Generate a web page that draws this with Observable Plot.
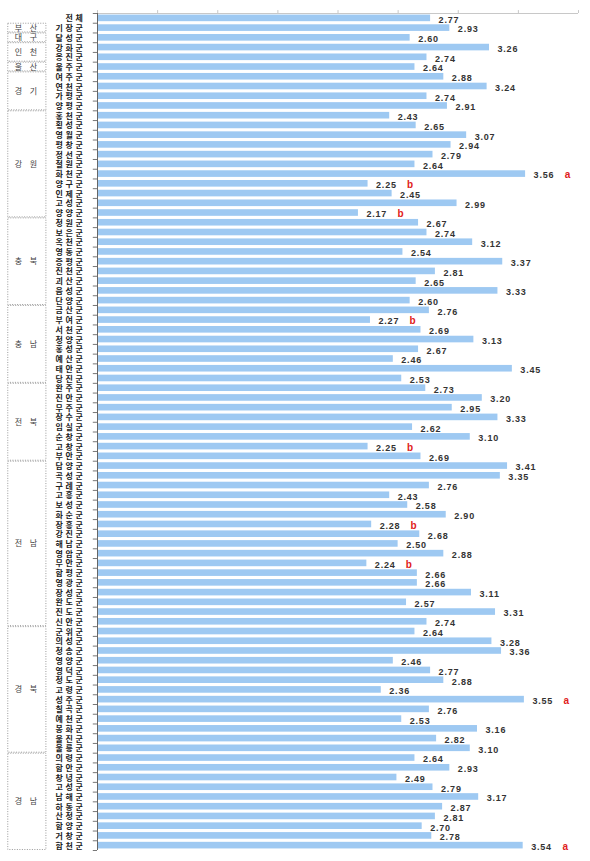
<!DOCTYPE html>
<html><head><meta charset="utf-8">
<script src="https://cdn.jsdelivr.net/npm/d3@7"></script>
<script src="https://cdn.jsdelivr.net/npm/@observablehq/plot@0.6"></script>
<style>
body{margin:0;background:#fff;}
#chart svg{display:block;}
</style></head><body><div id="chart"></div><script>
const names = ["전체","기장군","달성군","강화군","옹진군","울주군","여주군","연천군","가평군","양평군",
"홍천군","횡성군","영월군","평창군","정선군","철원군","화천군","양구군","인제군","고성군","양양군",
"청원군","보은군","옥천군","영동군","증평군","진천군","괴산군","음성군","단양군",
"금산군","부여군","서천군","청양군","홍성군","예산군","태안군","당진군",
"완주군","진안군","무주군","장수군","임실군","순창군","고창군","부안군",
"담양군","곡성군","구례군","고흥군","보성군","화순군","장흥군","강진군","해남군","영암군","무안군","함평군","영광군","장성군","완도군","진도군","신안군",
"군위군","의성군","청송군","영양군","영덕군","청도군","고령군","성주군","칠곡군","예천군","봉화군","울진군","울릉군",
"의령군","함안군","창녕군","고성군","남해군","하동군","산청군","함양군","거창군","합천군"];
const values = [2.77,2.93,2.60,3.26,2.74,2.64,2.88,3.24,2.74,2.91,
2.43,2.65,3.07,2.94,2.79,2.64,3.56,2.25,2.45,2.99,2.17,
2.67,2.74,3.12,2.54,3.37,2.81,2.65,3.33,2.60,
2.76,2.27,2.69,3.13,2.67,2.46,3.45,2.53,
2.73,3.20,2.95,3.33,2.62,3.10,2.25,2.69,
3.41,3.35,2.76,2.43,2.58,2.90,2.28,2.68,2.50,2.88,2.24,2.66,2.66,3.11,2.57,3.31,2.74,
2.64,3.28,3.36,2.46,2.77,2.88,2.36,3.55,2.76,2.53,3.16,2.82,3.10,
2.64,2.93,2.49,2.79,3.17,2.87,2.81,2.70,2.78,3.54];
const sigLetters = ["","","","","","","","","","",
"","","","","","","a","b","","","b",
"","","","","","","","","",
"","b","","","","","","",
"","","","","","","b","",
"","","","","","","b","","","","b","","","","","","",
"","","","","","","","a","","","","","",
"","","","","","","","","","a"];
const groupNames = ["부 산","대 구","인 천","울 산","경 기","강 원","충 북","충 남","전 북","전 남","경 북","경 남"];
const groupStart = [2,3,4,6,7,11,22,31,39,47,64,77];
const groupEnd   = [2,3,5,6,10,21,30,38,46,63,76,86];
const xTicks = [0,0.5,1,1.5,2,2.5,3,3.5,4];

const rows = names.map((n,i)=>({i:i+1, name:n, value:values[i], sig:sigLetters[i]}));
const groups = groupNames.map((g,k)=>({g, s:groupStart[k], e:groupEnd[k]}));
const n = names.length;
const boundaries = d3.range(0.5, n+1, 1);

const chart = Plot.plot({
  width: 590, height: 861,
  marginLeft: 97, marginRight: 12, marginTop: 13, marginBottom: 11,
  style: {fontFamily: "'Noto Sans CJK KR', 'Noto Sans', sans-serif", background: "#fff"},
  x: {domain: [0,4], axis: null},
  y: {domain: [0.5, n+0.5], reverse: true, axis: null},
  marks: [
    Plot.ruleY([0.5], {x1: 0, x2: 4, stroke: "#c8c8c8"}),
    Plot.ruleX(xTicks, {y1: 0.5, y2: 0.2, stroke: "#c8c8c8"}),
    Plot.rectX(rows, {x1: 0, x2: "value", y1: d=>d.i-0.34, y2: d=>d.i+0.34, fill: "#9ec9f2"}),
    Plot.ruleY(boundaries, {x1: -0.035, x2: 0, stroke: "#777"}),
    Plot.ruleX([0], {y1: 0.5, y2: n+0.5, stroke: "#666"}),
    Plot.text(rows, {x: 0, y: "i", text: "name", dx: -12, dy: 0.5, textAnchor: "end", fontSize: 8, fontWeight: "bold", fill: "#222"}),
    Plot.text(rows, {x: "value", y: "i", text: d=>d.value.toFixed(2), dx: 8, dy: 1.5, textAnchor: "start", fontSize: 9, fontWeight: "bold", fill: "#333", fontFamily: "'Liberation Sans', Arial, sans-serif"}),
    Plot.text(rows.filter(d=>d.sig), {x: "value", y: "i", text: "sig", dx: 42, dy: 1, fontSize: 10, fontWeight: "bold", fill: "#e02020", fontFamily: "'Liberation Sans', Arial, sans-serif"}),
    Plot.rect(groups, {x1: -0.742, x2: -0.425, y1: d=>d.s-0.45, y2: d=>d.e+0.45, fill: "none", stroke: "#999", strokeDasharray: "1,1.5"}),
    Plot.text(groups, {x: -0.583, y: d=>(d.s+d.e)/2, text: "g", fontSize: 8, fill: "#444"})
  ]
});
document.getElementById("chart").appendChild(chart);
const svg = d3.select(chart);
svg.selectAll("text").filter(function(){ return names.includes(this.textContent); }).attr("letter-spacing", "2.6px");
svg.selectAll("text").filter(function(){ return groupNames.includes(this.textContent); }).attr("letter-spacing", "3px");
svg.selectAll("text").filter(function(){ return /^\d\.\d\d$/.test(this.textContent); }).attr("letter-spacing", "0.8px");
</script></body></html>
